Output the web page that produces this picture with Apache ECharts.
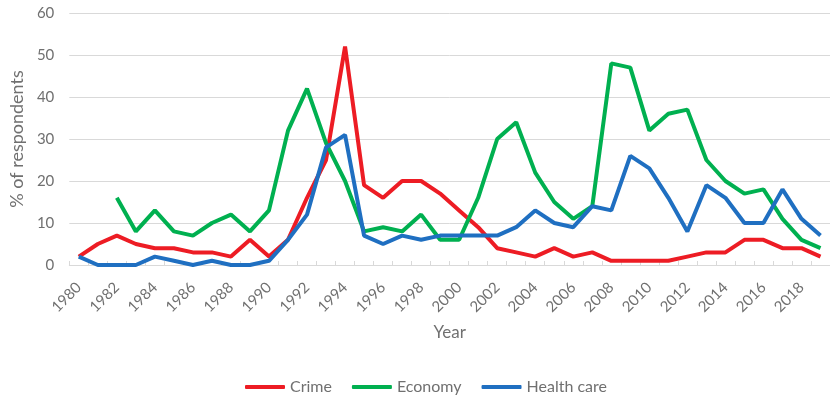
<!DOCTYPE html>
<html>
<head>
<meta charset="utf-8">
<script src="https://cdn.jsdelivr.net/npm/echarts@6/dist/echarts.min.js"></script>
<style>
  html, body { margin: 0; padding: 0; background: #fff; }
  #chart { width: 830px; height: 395px; }
</style>
</head>
<body>
<div id="chart"></div>
<script>
// Survey years
const years = [];
for (let y = 1980; y <= 2019; y++) years.push(String(y));

// Share of respondents naming each issue (%)
const crime = [2, 5, 7, 5, 4, 4, 3, 3, 2, 6, 2, 6, 16, 25, 52, 19, 16, 20, 20, 17,
               13, 9, 4, 3, 2, 4, 2, 3, 1, 1, 1, 1, 2, 3, 3, 6, 6, 4, 4, 2];
const economy = [null, null, 16, 8, 13, 8, 7, 10, 12, 8, 13, 32, 42, 29, 20, 8, 9, 8, 12, 6,
                 6, 16, 30, 34, 22, 15, 11, 14, 48, 47, 32, 36, 37, 25, 20, 17, 18, 11, 6, 4];
const healthCare = [2, 0, 0, 0, 2, 1, 0, 1, 0, 0, 1, 6, 12, 28, 31, 7, 5, 7, 6, 7,
                    7, 7, 7, 9, 13, 10, 9, 14, 13, 26, 23, 16, 8, 19, 16, 10, 10, 18, 11, 7];

const font = 'Lato, "Open Sans", sans-serif';
const grey = '#707070';

function line(name, data, color) {
  return {
    name, type: 'line', data,
    showSymbol: false, symbol: 'none',
    connectNulls: false,
    lineStyle: { width: 4, color },
    itemStyle: { color },
    emphasis: { disabled: true }
  };
}

const chart = echarts.init(document.getElementById('chart'));
chart.setOption({
  animation: false,
  textStyle: { fontFamily: font },
  grid: { left: 62, right: -8, top: 13, bottom: 130 },
  legend: {
    left: 240, top: 374,
    itemWidth: 40, itemHeight: 4, itemGap: 20,
    icon: 'roundRect',
    textStyle: { color: grey, fontSize: 16, fontFamily: font },
    data: ['Crime', 'Economy', 'Health care']
  },
  xAxis: {
    type: 'category',
    data: years,
    boundaryGap: true,
    name: 'Year',
    nameLocation: 'middle',
    nameGap: 59,
    nameTextStyle: { color: grey, fontSize: 17 },
    axisLine: { lineStyle: { color: '#d9d9d9', width: 1 } },
    axisTick: { show: true, inside: true, length: 4, interval: 0, lineStyle: { color: '#d9d9d9' } },
    axisLabel: { interval: 1, rotate: 45, color: grey, fontSize: 15, margin: 20 }
  },
  yAxis: {
    type: 'value',
    min: 0, max: 60, interval: 10,
    name: '% of respondents',
    nameLocation: 'middle',
    nameGap: 41,
    nameTextStyle: { color: grey, fontSize: 18 },
    axisLine: { show: false },
    axisTick: { show: false },
    axisLabel: { color: grey, fontSize: 15, margin: 15 },
    splitLine: { lineStyle: { color: '#d9d9d9', width: 1 } }
  },
  series: [
    line('Crime', crime, '#ED1C24'),
    line('Economy', economy, '#00B050'),
    line('Health care', healthCare, '#1F6FC1')
  ]
});
</script>
</body>
</html>
